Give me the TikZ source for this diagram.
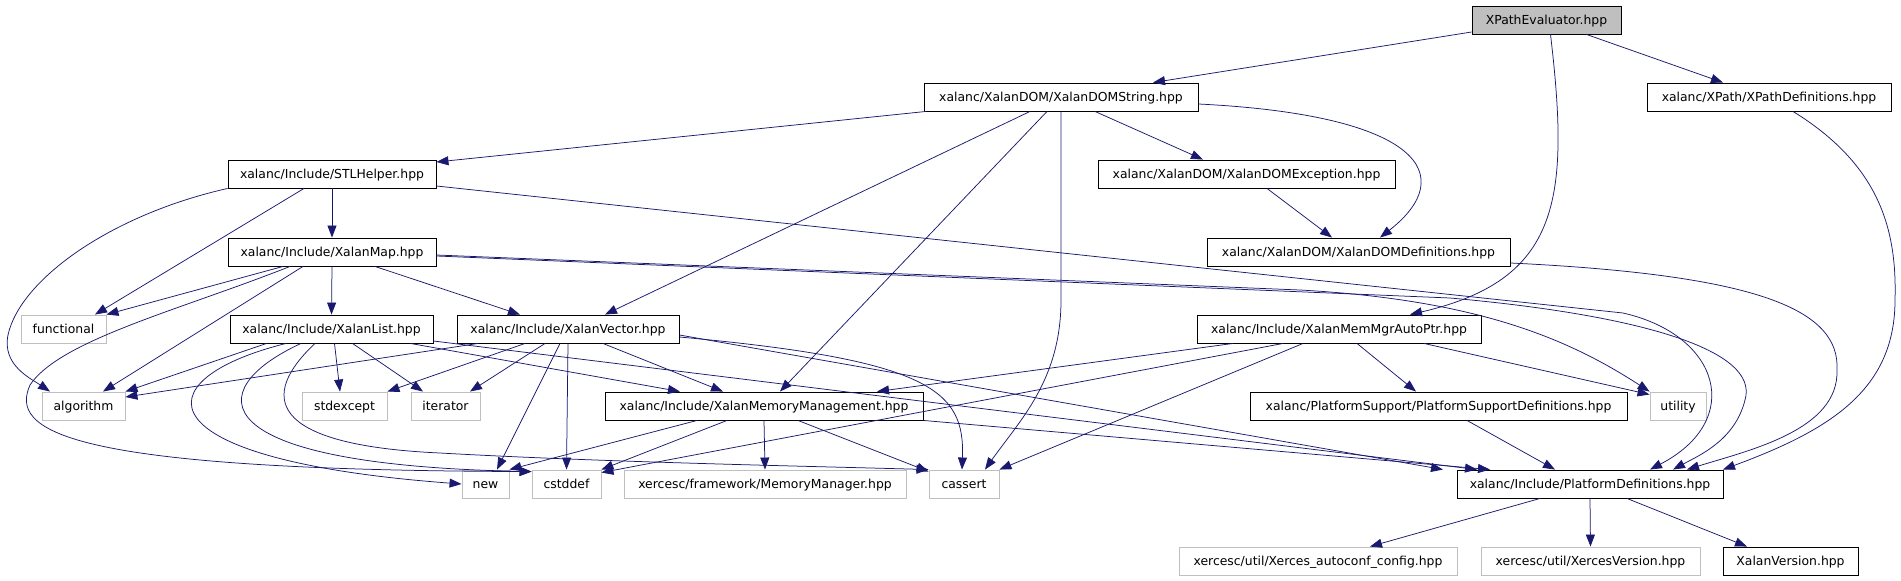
\documentclass[tikz,border=0pt]{standalone}
\usepackage{fontspec}
\setmainfont{DejaVu Sans}
\usetikzlibrary{arrows.meta}
\definecolor{linkBlue}{HTML}{191970}
\definecolor{extGray}{HTML}{BFBFBF}

\begin{document}
\begin{tikzpicture}[x=1pt,y=-1pt,
    fileBox/.style={draw=black,line width=0.9pt,fill=white,inner sep=0pt,
      minimum height=28pt,text height=10pt,text depth=1pt,
      font=\fontsize{12.4}{14}\selectfont},
    extBox/.style={fileBox,draw=extGray},
    focusBox/.style={fileBox,fill=extGray},
    incLink/.style={draw=linkBlue,line width=0.75pt,
      -{Triangle[length=12pt,width=9pt]}}]
  \useasboundingbox (0,0) rectangle (1901,581);

  % row 1 and 2
  \node[focusBox,minimum width=149pt] (root) at (1546.5,20) {XPathEvaluator.hpp};
  \node[fileBox,minimum width=274pt] (xds) at (1061,97) {xalanc/XalanDOM/XalanDOMString.hpp};
  \node[fileBox,minimum width=244pt] (xpdef) at (1769,97) {xalanc/XPath/XPathDefinitions.hpp};
  % row 3 and 4
  \node[fileBox,minimum width=208pt] (stl) at (332,174) {xalanc/Include/STLHelper.hpp};
  \node[fileBox,minimum width=297pt] (xdex) at (1246.5,174) {xalanc/XalanDOM/XalanDOMException.hpp};
  \node[fileBox,minimum width=208pt] (map) at (332,252) {xalanc/Include/XalanMap.hpp};
  \node[fileBox,minimum width=303pt] (xddef) at (1358.5,252) {xalanc/XalanDOM/XalanDOMDefinitions.hpp};
  % row 5
  \node[extBox,minimum width=85pt] (functional) at (63.5,329) {functional};
  \node[fileBox,minimum width=203pt] (list) at (331.5,329) {xalanc/Include/XalanList.hpp};
  \node[fileBox,minimum width=222pt] (vector) at (568,329) {xalanc/Include/XalanVector.hpp};
  \node[fileBox,minimum width=284pt] (autoptr) at (1339,329) {xalanc/Include/XalanMemMgrAutoPtr.hpp};
  % row 6
  \node[extBox,minimum width=83pt] (algorithm) at (83.5,406) {algorithm};
  \node[extBox,minimum width=85pt] (stdexcept) at (344.5,406) {stdexcept};
  \node[extBox,minimum width=69pt] (iterator) at (445.5,406) {iterator};
  \node[fileBox,minimum width=318pt] (memmgmt) at (764,406) {xalanc/Include/XalanMemoryManagement.hpp};
  \node[fileBox,minimum width=377pt] (psdef) at (1438.5,406) {xalanc/PlatformSupport/PlatformSupportDefinitions.hpp};
  \node[extBox,minimum width=56pt] (utility) at (1678,406) {utility};
  % row 7
  \node[extBox,minimum width=47pt] (new) at (485.5,484) {new};
  \node[extBox,minimum width=69pt] (cstddef) at (566.5,484) {cstddef};
  \node[extBox,minimum width=282pt] (memmgr) at (765,484) {xercesc/framework/MemoryManager.hpp};
  \node[extBox,minimum width=70pt] (cassert) at (964,484) {cassert};
  \node[fileBox,minimum width=266pt] (pdef) at (1590,484) {xalanc/Include/PlatformDefinitions.hpp};
  % row 8
  \node[extBox,minimum width=278pt] (autoconf) at (1318,561) {xercesc/util/Xerces\_autoconf\_config.hpp};
  \node[extBox,minimum width=219pt] (xversion) at (1590.5,561) {xercesc/util/XercesVersion.hpp};
  \node[fileBox,minimum width=135pt] (xalanversion) at (1790.5,561) {XalanVersion.hpp};

  % XPathEvaluator.hpp
  \draw[incLink] ([yshift=-12pt]root.west) -- ([xshift=92pt]xds.north);
  \draw[incLink] ([xshift=40pt]root.south) -- ([xshift=-46pt]xpdef.north);
  \draw[incLink] ([xshift=4pt]root.south) .. controls (1570,200) and (1560,280) .. ([xshift=71pt]autoptr.north);

  % XalanDOMString.hpp
  \draw[incLink] ([xshift=-135pt]xds.south) -- ([yshift=12pt]stl.east);
  \draw[incLink] ([xshift=34pt]xds.south) -- ([xshift=-43.5pt]xdex.north);
  \draw[incLink] ([yshift=-7pt]xds.east) .. controls (1420,115) and (1460,175) .. ([xshift=21.5pt]xddef.north);
  \draw[incLink] ([xshift=-31pt]xds.south) -- ([xshift=37pt]vector.north);
  \draw[incLink] ([xshift=-14pt]xds.south) -- ([xshift=16pt]memmgmt.north);
  \draw[incLink] (xds.south) -- (1061,300) .. controls (1061,380) and (1020,420) .. ([xshift=21pt]cassert.north);

  \draw[incLink] ([xshift=20.5pt]xdex.south) -- ([xshift=-26.5pt]xddef.north);
  \draw[incLink] ([yshift=-11pt]xddef.east) .. controls (1760,275) and (1840,310) .. (1837,370)
    .. controls (1839,430) and (1750,450) .. ([xshift=97pt]pdef.north);
  \draw[incLink] ([xshift=24pt]xpdef.south) .. controls (1880,165) and (1897,230) .. (1895,300)
    .. controls (1895,390) and (1830,430) .. ([xshift=133pt]pdef.north);

  % STLHelper.hpp
  \draw[incLink] (stl.south) -- (map.north);
  \draw[incLink] ([xshift=-28pt]stl.south) -- ([xshift=31.5pt]functional.north);
  \draw[incLink] (stl.south west) .. controls (110,215) and (20,280) .. (8,335)
    .. controls (2,365) and (30,378) .. ([xshift=-33.5pt]algorithm.north);
  \draw[incLink] ([yshift=-12pt]stl.east) -- (1623,313) .. controls (1720,335) and (1745,420) .. ([xshift=60pt]pdef.north);

  % XalanMap.hpp
  \draw[incLink] ([xshift=-49pt]map.south) -- (functional.north east);
  \draw[incLink] ([xshift=-42pt]map.south) .. controls (180,310) and (60,340) .. (30,385)
    .. controls (10,430) and (60,470) .. ([yshift=-2pt]cstddef.north west);
  \draw[incLink] ([xshift=-29pt]map.south) -- ([xshift=19.5pt]algorithm.north);
  \draw[incLink] (map.south) -- (list.north);
  \draw[incLink] ([xshift=43pt]map.south) -- ([xshift=-48pt]vector.north);
  \draw[incLink] ([yshift=-3pt]map.east) -- (1300,290) .. controls (1480,300) and (1570,340) .. (utility.north west);
  \draw[incLink] ([yshift=-4pt]map.east) -- (1450,298) .. controls (1640,315) and (1760,350) .. (1745,400)
    .. controls (1735,440) and (1700,455) .. ([xshift=83pt]pdef.north);

  % XalanList.hpp
  \draw[incLink] ([xshift=-65pt]list.south) -- (algorithm.north east);
  \draw[incLink] ([xshift=-45.5pt]list.south) .. controls (140,380) and (140,460) .. (new.west);
  \draw[incLink] ([xshift=-30.5pt]list.south) .. controls (200,390) and (200,465) .. ([yshift=-2pt]cstddef.north west);
  \draw[incLink] ([xshift=-16.5pt]list.south) .. controls (260,395) and (265,445) .. (440,453)
    .. controls (600,462) and (800,466) .. (cassert.north west);
  \draw[incLink] ([xshift=3pt]list.south) -- ([xshift=-4.5pt]stdexcept.north);
  \draw[incLink] ([xshift=21pt]list.south) -- ([xshift=-22.5pt]iterator.north);
  \draw[incLink] ([xshift=79pt]list.south) -- ([xshift=-84pt]memmgmt.north);
  \draw[incLink] ([yshift=-12pt]list.east) -- ([xshift=-113pt]pdef.north);

  % XalanVector.hpp
  \draw[incLink] ([xshift=-90pt]vector.south) -- ([yshift=9pt]algorithm.east);
  \draw[incLink] ([xshift=-43pt]vector.south) -- (stdexcept.north east);
  \draw[incLink] ([xshift=-23pt]vector.south) -- ([xshift=24.5pt]iterator.north);
  \draw[incLink] ([xshift=-8pt]vector.south) -- ([xshift=11.5pt]new.north);
  \draw[incLink] (vector.south) -- (cstddef.north);
  \draw[incLink] ([xshift=35pt]vector.south) -- ([xshift=-41pt]memmgmt.north);
  \draw[incLink] ([yshift=-8pt]vector.east) .. controls (930,360) and (965,390) .. ([xshift=-2pt]cassert.north);
  \draw[incLink] ([yshift=-6pt]vector.east) -- ([xshift=-147pt]pdef.north);

  % XalanMemoryManagement.hpp
  \draw[incLink] ([xshift=-67pt]memmgmt.south) -- (new.north east);
  \draw[incLink] ([xshift=-37pt]memmgmt.south) -- (cstddef.north east);
  \draw[incLink] (memmgmt.south) -- (memmgr.north);
  \draw[incLink] ([xshift=34pt]memmgmt.south) -- ([yshift=-2pt]cassert.north west);
  \draw[incLink] (memmgmt.south east) -- ([xshift=-100pt]pdef.north);

  % XalanMemMgrAutoPtr.hpp
  \draw[incLink] ([xshift=-106pt]autoptr.south) -- ([xshift=113pt]memmgmt.north);
  \draw[incLink] ([xshift=-56pt]autoptr.south) -- ([yshift=-3pt]cstddef.north east);
  \draw[incLink] ([xshift=-36pt]autoptr.south) -- (cassert.north east);
  \draw[incLink] ([xshift=18pt]autoptr.south) -- ([xshift=-22.5pt]psdef.north);
  \draw[incLink] ([xshift=85pt]autoptr.south) -- ([yshift=-3pt]utility.north west);

  \draw[incLink] ([xshift=28.5pt]psdef.south) -- ([xshift=-35pt]pdef.north);

  % PlatformDefinitions.hpp
  \draw[incLink] ([xshift=-50pt]pdef.south) -- ([xshift=52pt]autoconf.north);
  \draw[incLink] (pdef.south) -- (xversion.north);
  \draw[incLink] ([xshift=37pt]pdef.south) -- ([xshift=-43.5pt]xalanversion.north);
\end{tikzpicture}
\end{document}
